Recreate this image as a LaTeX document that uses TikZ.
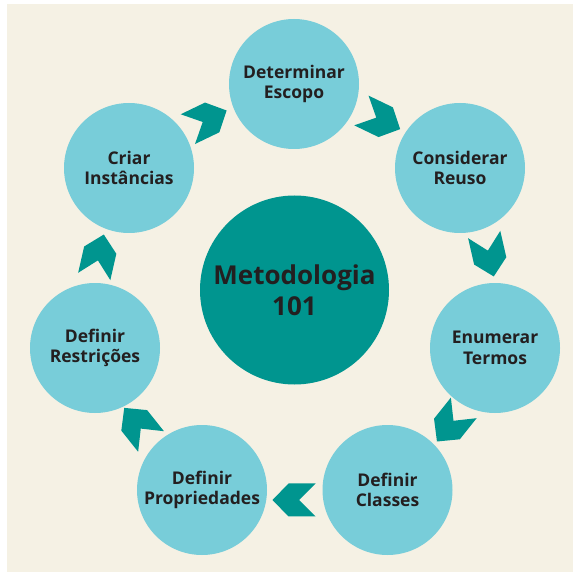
\documentclass[tikz,border=0pt]{standalone}
\usepackage{fontspec}
\setmainfont{Open Sans}
\definecolor{creme}{HTML}{F5F1E4}
\definecolor{azul}{HTML}{78CDD9}
\definecolor{verde}{HTML}{00958F}
\definecolor{texto}{HTML}{231F20}
\tikzset{
  etapa/.style={circle, fill=azul, minimum size=130pt, inner sep=0pt, align=center,
    text=texto, font=\fontsize{17.5}{20.5}\selectfont\bfseries},
  seta/.style={fill=verde},
}
\begin{document}
\begin{tikzpicture}[x=1pt,y=-1pt]
\useasboundingbox (0,0) rectangle (573,572);
\fill[creme] (7,4) rectangle (573,572);

\node[circle, fill=verde, minimum size=189pt, inner sep=0pt, align=center, text=texto,
  font=\fontsize{26}{31}\selectfont\bfseries] (centro) at (294.5,290) {Metodologia\\101};

\node[etapa] (escopo) at (294,84) {Determinar\\Escopo};
\node[etapa] (reuso) at (460,168) {Considerar\\Reuso};
\node[etapa] (termos) at (495,348) {Enumerar\\Termos};
\node[etapa] (classes) at (387.5,490) {Definir\\Classes};
\node[etapa] (propriedades) at (202,490) {Definir\\Propriedades};
\node[etapa] (restricoes) at (95,348) {Definir\\Restrições};
\node[etapa] (instancias) at (129,168) {Criar\\Instâncias};

% setas entre as etapas
\foreach \k in {0,...,6}{
  \pgfmathsetmacro\ang{64.2857-51.4286*\k}
  \pgfmathsetmacro\cx{294+200*cos(\ang)}
  \pgfmathsetmacro\cy{300-200*sin(\ang)}
  \fill[seta, shift={(\cx,\cy)}, rotate=\ang-90]
    (21.5,0) -- (5.5,16.5) -- (-21.5,16.5) -- (-5,0) -- (-21.5,-16.5) -- (5.5,-16.5) -- cycle;
}
\end{tikzpicture}
\end{document}
